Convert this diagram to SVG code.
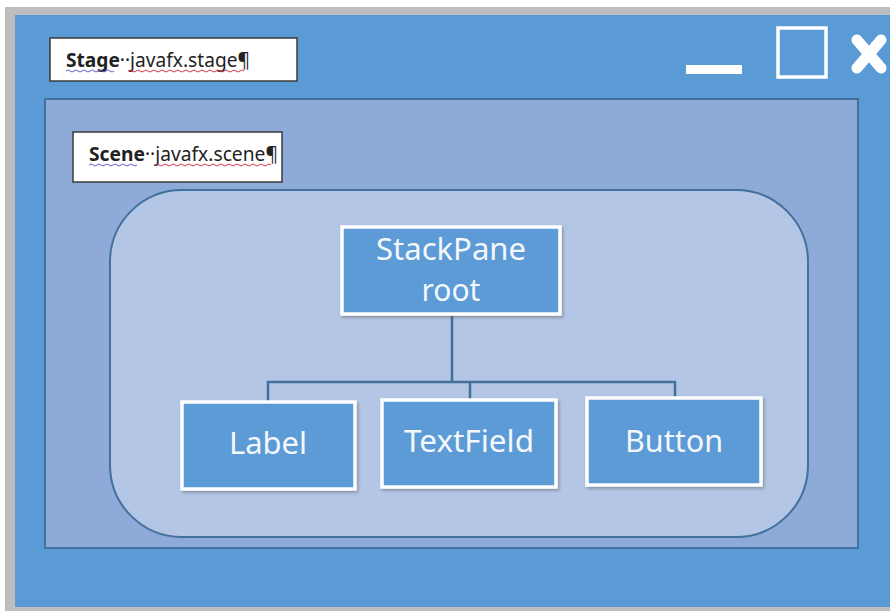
<svg xmlns="http://www.w3.org/2000/svg" width="890" height="611" viewBox="0 0 890 611">
<style>
.lbl{fill:#fff;stroke:#3a3a3a;stroke-width:1.5}
.small{font-family:"Noto Sans","Liberation Sans",sans-serif;font-size:20px;fill:#222}
.node rect{fill:#5b9bd5;stroke:#fff;stroke-width:3.5;filter:url(#sh)}
.node text{font-family:"Noto Sans","Open Sans","Liberation Sans",sans-serif;font-size:30px;fill:#f4f8fc;text-anchor:middle}
.conn{fill:none;stroke:#41719c;stroke-width:2.5}
.wave{fill:none;stroke-width:1}
</style>
<defs>
<filter id="sh" x="-10%" y="-10%" width="125%" height="125%">
<feDropShadow dx="1.5" dy="2" stdDeviation="1.5" flood-color="#555" flood-opacity="0.45"/>
</filter>
</defs>
<rect x="0" y="0" width="890" height="611" fill="#ffffff"/>
<rect x="5" y="7" width="885" height="604" fill="#bcbec0"/>
<rect x="15" y="15" width="875" height="592" fill="#5b9bd5"/>
<!-- window controls -->
<rect x="686" y="65" width="56" height="9" fill="#fff"/>
<rect x="778" y="28" width="48" height="49" fill="none" stroke="#fff" stroke-width="3.5"/>
<path d="M857,40 L881,68 M881,40 L857,68" stroke="#fff" stroke-width="11" stroke-linecap="round"/>
<!-- stage label -->
<g id="stage-label">
<rect class="lbl" x="50" y="38" width="247" height="43"/>
<text class="small" x="66" y="67" textLength="184" lengthAdjust="spacingAndGlyphs"><tspan font-weight="bold">Stage</tspan>··javafx.stage¶</text>
<path class="wave" stroke="#6a5acd" d="M66,71 q2,-2 4,0 t4,0 t4,0 t4,0 t4,0 t4,0 t4,0 t4,0 t4,0 t4,0 t4,0 t4,0"/>
<path class="wave" stroke="#d9364a" d="M128,71 q2,-2 4,0 t4,0 t4,0 t4,0 t4,0 t4,0 t4,0 t4,0 t4,0 t4,0 t4,0 t4,0 t4,0 t4,0 t4,0 t4,0 t4,0 t4,0 t4,0 t4,0 t4,0 t4,0 t4,0 t4,0 t4,0 t4,0 t4,0 t4,0 t4,0"/>
</g>
<!-- scene -->
<g id="scene">
<rect x="45" y="99" width="813" height="449" fill="#8eaad8" stroke="#41719c" stroke-width="2"/>
</g>
<g id="scene-label">
<rect class="lbl" x="73" y="132" width="209" height="50"/>
<text class="small" x="89" y="161" textLength="189" lengthAdjust="spacingAndGlyphs"><tspan font-weight="bold">Scene</tspan>··javafx.scene¶</text>
<path class="wave" stroke="#6a5acd" d="M89,165 q2,-2 4,0 t4,0 t4,0 t4,0 t4,0 t4,0 t4,0 t4,0 t4,0 t4,0 t4,0 t4,0"/>
<path class="wave" stroke="#d9364a" d="M155,165 q2,-2 4,0 t4,0 t4,0 t4,0 t4,0 t4,0 t4,0 t4,0 t4,0 t4,0 t4,0 t4,0 t4,0 t4,0 t4,0 t4,0 t4,0 t4,0 t4,0 t4,0 t4,0 t4,0 t4,0 t4,0 t4,0 t4,0 t4,0 t4,0 t4,0"/>
</g>
<g id="root-pane">
<rect x="110" y="190" width="698" height="347" rx="72" ry="72" fill="#b4c6e6" stroke="#41719c" stroke-width="2"/>
</g>
<!-- connectors -->
<g id="connectors">
<path class="conn" d="M452,314 V382 M268,402 V382 H675 V398 M470,382 V400"/>
</g>
<g id="stackpane" class="node">
<rect x="342" y="227" width="218" height="87"/>
<text x="451" y="260" textLength="150" lengthAdjust="spacingAndGlyphs">StackPane</text>
<text x="451" y="301">root</text>
</g>
<g id="label" class="node">
<rect x="182" y="402" width="173" height="87"/>
<text x="268" y="454" textLength="78" lengthAdjust="spacingAndGlyphs">Label</text>
</g>
<g id="textfield" class="node">
<rect x="382" y="400" width="174" height="87"/>
<text x="469" y="452" textLength="130" lengthAdjust="spacingAndGlyphs">TextField</text>
</g>
<g id="button" class="node">
<rect x="587" y="398" width="174" height="87"/>
<text x="674" y="452" textLength="98" lengthAdjust="spacingAndGlyphs">Button</text>
</g>
</svg>
